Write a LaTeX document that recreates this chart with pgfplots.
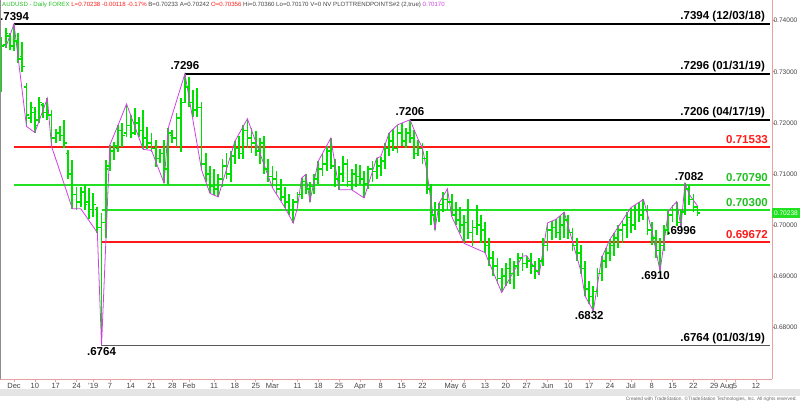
\documentclass[border=0pt]{standalone}
\usepackage{fontspec}
\setmainfont{Liberation Sans}
\usepackage{pgfplots}
\usepackage{pgfplotstable}
\pgfplotsset{compat=1.18}
\definecolor{barg}{HTML}{00E000}
\definecolor{lineg}{HTML}{22E022}
\definecolor{liner}{HTML}{FF1A1A}
\definecolor{purp}{HTML}{D040E0}
\definecolor{axpink}{HTML}{E8A0A0}
\definecolor{txtg}{HTML}{22C022}
\definecolor{txtd}{HTML}{444444}
\pgfdeclareplotmark{oleft}{\pgfpathmoveto{\pgfpoint{-2.6pt}{0pt}}\pgfpathlineto{\pgfpoint{0pt}{0pt}}\pgfusepathqstroke}
\pgfdeclareplotmark{cright}{\pgfpathmoveto{\pgfpoint{0pt}{0pt}}\pgfpathlineto{\pgfpoint{2.6pt}{0pt}}\pgfusepathqstroke}
\pgfplotstableread{
i O H L C
-3 .7270 .7368 .7261 .7350
-2 .7352 .7386 .7347 .7375
-1 .7370 .7376 .7343 .7350
0 .7350 .7394 .7340 .7360
1 .7358 .7375 .7318 .7325
2 .7330 .7358 .7300 .7310
3 .7270 .7278 .7193 .7215
4 .7210 .7241 .7200 .7230
5 .7220 .7231 .7181 .7195
6 .7205 .7251 .7200 .7240
7 .7235 .7239 .7210 .7220
8 .7220 .7248 .7206 .7215
9 .7215 .7225 .7153 .7170
10 .7170 .7187 .7160 .7180
11 .7180 .7193 .7165 .7175
12 .7175 .7206 .7150 .7160
13 .7140 .7147 .7090 .7100
14 .7100 .7128 .7032 .7060
15 .7060 .7075 .7030 .7045
16 .7045 .7075 .7036 .7065
17 .7065 .7079 .7030 .7040
18 .7045 .7073 .7011 .7030
19 .7030 .7063 .7016 .7040
20 .7030 .7036 .6985 .6995
21 .6995 .7024 .6764 .7005
22 .7005 .7128 .6975 .7110
23 .7115 .7157 .7105 .7145
24 .7145 .7163 .7127 .7155
25 .7150 .7196 .7142 .7185
26 .7185 .7200 .7153 .7175
27 .7180 .7237 .7173 .7195
28 .7195 .7215 .7170 .7180
29 .7180 .7229 .7176 .7200
30 .7200 .7212 .7173 .7185
31 .7185 .7225 .7148 .7170
32 .7170 .7192 .7148 .7160
33 .7160 .7181 .7142 .7150
34 .7150 .7167 .7114 .7130
35 .7130 .7148 .7122 .7140
36 .7140 .7167 .7082 .7110
37 .7110 .7190 .7079 .7180
38 .7175 .7186 .7161 .7170
39 .7170 .7219 .7153 .7210
40 .7210 .7249 .7142 .7240
41 .7240 .7296 .7239 .7270
42 .7270 .7289 .7231 .7240
43 .7240 .7264 .7212 .7225
44 .7225 .7268 .7212 .7230
45 .7230 .7241 .7108 .7120
46 .7120 .7140 .7085 .7100
47 .7100 .7115 .7062 .7075
48 .7075 .7110 .7058 .7070
49 .7070 .7100 .7055 .7090
50 .7090 .7130 .7075 .7115
51 .7115 .7140 .7090 .7100
52 .7100 .7145 .7085 .7135
53 .7135 .7164 .7120 .7150
54 .7150 .7175 .7130 .7140
55 .7140 .7195 .7130 .7185
56 .7185 .7208 .7150 .7170
57 .7170 .7190 .7140 .7160
58 .7160 .7185 .7135 .7145
59 .7145 .7170 .7120 .7160
60 .7160 .7175 .7100 .7110
61 .7110 .7130 .7085 .7095
62 .7095 .7115 .7073 .7090
63 .7090 .7105 .7060 .7070
64 .7070 .7090 .7047 .7055
65 .7055 .7075 .7034 .7045
66 .7045 .7060 .7019 .7030
67 .7030 .7050 .7004 .7045
68 .7045 .7065 .7034 .7060
69 .7060 .7092 .7050 .7085
70 .7085 .7099 .7060 .7070
71 .7070 .7085 .7046 .7075
72 .7075 .7100 .7060 .7090
73 .7090 .7125 .7080 .7110
74 .7110 .7140 .7095 .7120
75 .7120 .7155 .7105 .7145
76 .7145 .7170 .7110 .7115
77 .7115 .7130 .7075 .7090
78 .7090 .7115 .7069 .7100
79 .7100 .7135 .7085 .7120
80 .7120 .7130 .7075 .7085
81 .7085 .7110 .7069 .7100
82 .7100 .7120 .7075 .7095
83 .7095 .7118 .7080 .7090
84 .7090 .7105 .7053 .7080
85 .7080 .7115 .7070 .7110
86 .7110 .7125 .7085 .7105
87 .7105 .7131 .7090 .7115
88 .7115 .7134 .7095 .7125
89 .7125 .7160 .7110 .7150
90 .7150 .7180 .7135 .7165
91 .7165 .7188 .7145 .7150
92 .7150 .7196 .7140 .7180
93 .7180 .7199 .7155 .7165
94 .7165 .7190 .7150 .7180
95 .7180 .7206 .7160 .7170
96 .7170 .7186 .7130 .7140
97 .7140 .7167 .7135 .7150
98 .7150 .7160 .7120 .7130
99 .7130 .7145 .7060 .7070
100 .7070 .7080 .7000 .7020
101 .7020 .7045 .6991 .7030
102 .7030 .7043 .7005 .7040
103 .7040 .7065 .7025 .7050
104 .7050 .7071 .7030 .7045
105 .7045 .7060 .7017 .7020
106 .7020 .7045 .7000 .7010
107 .7010 .7035 .6985 .7000
108 .7000 .7020 .6964 .7005
109 .7005 .7050 .6972 .6985
110 .6985 .7010 .6958 .6995
111 .6995 .7040 .6980 .7000
112 .7000 .7020 .6965 .6990
113 .6990 .7005 .6946 .6960
114 .6960 .6975 .6920 .6935
115 .6935 .6950 .6900 .6920
116 .6920 .6935 .6885 .6895
117 .6895 .6915 .6868 .6900
118 .6900 .6925 .6880 .6915
119 .6915 .6935 .6885 .6905
120 .6905 .6930 .6875 .6920
121 .6920 .6945 .6900 .6935
122 .6935 .6945 .6910 .6925
123 .6925 .6940 .6915 .6930
124 .6930 .6945 .6905 .6920
125 .6920 .6930 .6895 .6910
126 .6910 .6935 .6903 .6930
127 .6930 .6975 .6920 .6960
128 .6960 .7004 .6950 .6990
129 .6990 .7008 .6970 .6995
130 .6995 .7011 .6975 .6985
131 .6985 .7018 .6970 .7000
132 .7000 .7025 .6975 .7010
133 .7010 .7020 .6972 .6985
134 .6985 .6995 .6950 .6960
135 .6960 .6975 .6930 .6945
136 .6945 .6960 .6905 .6915
137 .6915 .6930 .6861 .6875
138 .6875 .6890 .6845 .6860
139 .6860 .6880 .6832 .6870
140 .6870 .6915 .6860 .6905
141 .6905 .6940 .6890 .6930
142 .6930 .6955 .6915 .6945
143 .6945 .6972 .6930 .6960
144 .6960 .6985 .6940 .6975
145 .6975 .7000 .6955 .6990
146 .6990 .7010 .6965 .7000
147 .7000 .7025 .6975 .7015
148 .7015 .7034 .6985 .7000
149 .7000 .7040 .6990 .7030
150 .7030 .7045 .7005 .7020
151 .7020 .7050 .7010 .7030
152 .7030 .7040 .6980 .6990
153 .6990 .7005 .6960 .6975
154 .6975 .6990 .6935 .6950
155 .6950 .6975 .6910 .6960
156 .6960 .7000 .6950 .6990
157 .6990 .7027 .6980 .7020
158 .7020 .7040 .7005 .7030
159 .7030 .7046 .6998 .7005
160 .7005 .7030 .6996 .7025
161 .7025 .7082 .7020 .7070
162 .7070 .7078 .7040 .7050
163 .7050 .7060 .7025 .7035
164 .70356 .70360 .70170 .70238
}\ohlc
\begin{document}
\begin{tikzpicture}
\useasboundingbox (0,-23pt) rectangle (800pt,379pt);
\begin{axis}[
  at={(0pt,0pt)}, anchor=south west,
  scale only axis, width=772pt, height=379pt,
  xmin=-3.36, xmax=181.86, ymin=0.66985, ymax=0.74405,
  axis x line*=bottom, axis y line*=right,
  axis line style={axpink, line width=0.9pt, -},
  clip=false,
  tick align=outside,
  major tick length=2.5pt,
  tick style={axpink, line width=0.6pt},
  /pgf/number format/assume math mode=true,
  ytick={0.68,0.69,0.70,0.71,0.72,0.73,0.74},
  yticklabels={0.68000,0.69000,0.70000,0.71000,0.72000,0.73000,0.74000},
  yticklabel style={font=\fontsize{6.6}{7}\selectfont, text=txtd, xshift=-2.2pt, inner sep=1pt},
  xtick={0,5,10,15,19,23,28,33,38,42,48,53,58,62,68,73,78,83,88,93,98,105,108,113,118,123,128,133,138,143,148,153,158,163,168,171,173,178},
  xticklabels={Dec,10,17,24,'19,7,14,21,28,Feb,11,18,25,Mar,11,18,25,Apr,8,15,22,May,6,13,20,27,Jun,10,17,24,Jul,8,15,22,29,Aug,5,12},
  xticklabel style={font=\fontsize{7.5}{8}\selectfont, text=txtd, yshift=1.5pt},
]
% horizontal levels
\addplot[black, line width=1.6pt] coordinates {(0,0.7394) (181.4,0.7394)};
\addplot[black, line width=1.6pt] coordinates {(41,0.7296) (181.4,0.7296)};
\addplot[black, line width=1.6pt] coordinates {(95,0.7206) (181.4,0.7206)};
\addplot[black!65, line width=1.6pt] coordinates {(21,0.6764) (181.4,0.6764)};
\addplot[liner, line width=2pt] coordinates {(0,0.71533) (181.4,0.71533)};
\addplot[lineg, line width=2pt] coordinates {(0,0.70790) (181.4,0.70790)};
\addplot[lineg, line width=2pt] coordinates {(21,0.70300) (181.4,0.70300)};
\addplot[liner, line width=2pt] coordinates {(21,0.69672) (181.4,0.69672)};
% OHLC bars
\addplot[draw=none, no markers, forget plot,
  error bars/.cd, y dir=plus, y explicit, error mark=none,
  error bar style={draw=barg, line width=1.8pt}]
  table[x=i, y=L, y error expr=\thisrow{H}-\thisrow{L}] {\ohlc};
\addplot[only marks, mark=oleft, barg, mark options={line width=1.6pt}] table[x=i, y=O] {\ohlc};
\addplot[only marks, mark=cright, barg, mark options={line width=1.6pt}] table[x=i, y=C] {\ohlc};
% trend points line
\addplot[purp, line width=0.8pt] coordinates {
(-2,.7347) (0,.7394) (3,.7193) (5,.7181) (8,.7248) (9,.7154) (14,.7032) (16,.7032) (20,.6985) (21,.6764)
(23,.7157) (25,.7196) (27,.7237) (31,.7148) (33,.7146) (36,.7082) (37,.7190) (41,.7296) (45,.7108) (47,.7062)
(49,.7055) (53,.7164) (56,.7208) (62,.7073) (65,.7034) (67,.7004) (68,.7034) (69,.7092) (70,.7099) (71,.7046)
(73,.7125) (76,.7170) (78,.7069) (81,.7069) (84,.7053) (87,.7131) (88,.7134) (90,.7180) (92,.7196) (95,.7206)
(97,.7167) (98,.7151) (99,.7108) (101,.6991) (102,.7043) (104,.7071) (105,.7017) (108,.6964) (113,.6946) (117,.6868)
(122,.6939) (123,.6940) (126,.6903) (128,.7004) (130,.7011) (132,.7025) (136,.6910) (137,.6861) (139,.6832) (141,.6936)
(143,.6972) (148,.7034) (151,.7050) (153,.6991) (155,.6910) (157,.7027) (159,.7046) (160,.6996) (161,.7082) (162,.7060) (164,.7037)};
% level labels
\begin{scope}[every node/.style={font=\bfseries\fontsize{11.5}{12}\selectfont, inner sep=0pt}]
\node[anchor=base east, yshift=4pt] at (axis cs:180.2,0.7394) {.7394 (12/03/18)};
\node[anchor=base east, yshift=4pt] at (axis cs:180.2,0.7296) {.7296 (01/31/19)};
\node[anchor=base east, yshift=4pt] at (axis cs:180.2,0.7206) {.7206 (04/17/19)};
\node[anchor=base east, yshift=4pt] at (axis cs:180.2,0.6764) {.6764 (01/03/19)};
\node[anchor=base east, yshift=3.5pt, text=liner] at (axis cs:180.9,0.71533) {0.71533};
\node[anchor=base east, yshift=3.5pt, text=txtg] at (axis cs:180.9,0.70790) {0.70790};
\node[anchor=base east, yshift=3.5pt, text=txtg] at (axis cs:180.9,0.70300) {0.70300};
\node[anchor=base east, yshift=3.5pt, text=liner] at (axis cs:180.9,0.69672) {0.69672};
\node[anchor=base west, yshift=3.5pt] at (axis cs:-3.36,0.7394) {.7394};
\node[anchor=base, yshift=4pt] at (axis cs:41,0.7296) {.7296};
\node[anchor=base, yshift=4pt] at (axis cs:95,0.7206) {.7206};
\node[anchor=north, yshift=-2pt] at (axis cs:21,0.6764) {.6764};
\node[anchor=base, yshift=3pt] at (axis cs:162,0.7082) {.7082};
\node[anchor=north, yshift=1pt] at (axis cs:160.2,0.6996) {.6996};
\node[anchor=north, yshift=-0.5pt] at (axis cs:153.9,0.6910) {.6910};
\node[anchor=north, yshift=-0.5pt] at (axis cs:138,0.6832) {.6832};
\end{scope}
% last price tag
\node[anchor=west, fill=lineg, text=white, font=\fontsize{6.6}{7}\selectfont, inner sep=0.8pt, minimum height=9.5pt, minimum width=27.5pt] at (axis cs:181.86,0.70238) {0.70238};
\end{axis}
% frame details
\draw[black!45, line width=1pt] (0.5pt,0pt) -- (0.5pt,379pt);
\fill[black!10] (0pt,-10pt) rectangle (800pt,-17pt);
\node[anchor=east, font=\fontsize{4.8}{5}\selectfont, text=black!60, inner sep=0pt] at (797pt,-19.8pt) {Created with TradeStation. \textcopyright TradeStation Technologies, Inc. All rights reserved.};
\node[anchor=west, font=\fontsize{6.1}{7}\selectfont, inner sep=0pt] at (2pt,374pt) {\textcolor{txtg}{AUDUSD - Daily FOREX} \textcolor{liner}{L=0.70238 -0.00118 -0.17\%} \textcolor{txtd}{B=0.70233 A=0.70242} \textcolor{liner}{O=0.70356} \textcolor{txtd}{Hi=0.70360 Lo=0.70170 V=0 NV PLOTTRENDPOINTS\#2 (2,true)} \textcolor{purp}{0.70170}};
\end{tikzpicture}
\end{document}
